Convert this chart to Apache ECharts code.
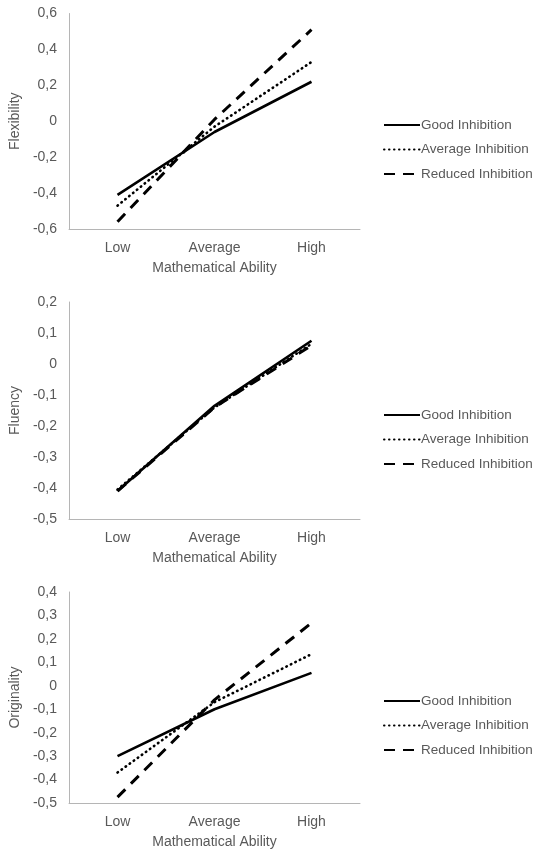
<!DOCTYPE html>
<html>
<head>
<meta charset="utf-8">
<script src="https://cdn.jsdelivr.net/npm/echarts@6/dist/echarts.min.js"></script>
<style>html,body{margin:0;padding:0;background:#fff}#c{width:537px;height:851px}</style>
</head>
<body>
<div id="c"></div>
<script>
const categories = ['Low', 'Average', 'High'];
const seriesNames = ['Good Inhibition', 'Average Inhibition', 'Reduced Inhibition'];
const yTitles = ['Flexibility', 'Fluency', 'Originality'];
const xTitle = 'Mathematical Ability';

const flexGood = [-0.41, -0.06, 0.22];
const flexAvg = [-0.47, -0.03, 0.33];
const flexRed = [-0.56, 0.01, 0.51];

const fluGood = [-0.41, -0.135, 0.075];
const fluAvg = [-0.405, -0.14, 0.065];
const fluRed = [-0.41, -0.14, 0.06];

const origGood = [-0.30, -0.10, 0.055];
const origAvg = [-0.37, -0.07, 0.135];
const origRed = [-0.475, -0.06, 0.268];

const yMin = [-0.6, -0.5, -0.5];
const yMax = [0.6, 0.2, 0.4];
const yStep = [0.2, 0.1, 0.1];

const panels = [
  [flexGood, flexAvg, flexRed],
  [fluGood, fluAvg, fluRed],
  [origGood, origAvg, origRed]
];

const FONT = 'Liberation Sans, Arial, sans-serif';
const TXT = '#595959';
const AXC = '#b5b5b5';
const FS = 14;
const grids = [
  {left: 67, top: 13.5, width: 293, height: 215.5},
  {left: 67, top: 302, width: 293, height: 217},
  {left: 67, top: 592, width: 293, height: 211}
];
const legendTops = [113, 403, 689];
const styles = [
  {type: 'solid', width: 2.6, cap: 'butt'},
  {type: [0.5, 4.5], width: 2.6, cap: 'round'},
  {type: [11, 8], width: 3, cap: 'butt'}
];
const fmt = v => Math.abs(v) < 1e-9 ? '0' : v.toFixed(1).replace('.', ',');

const option = {
  animation: false,
  backgroundColor: '#fff',
  textStyle: {fontFamily: FONT},
  grid: grids.map(g => Object.assign({containLabel: false}, g)),
  xAxis: grids.map((g, i) => ({
    type: 'category', gridIndex: i, data: categories, boundaryGap: true,
    axisLine: {show: true, onZero: false, lineStyle: {color: AXC, width: 1}},
    axisTick: {show: false},
    axisLabel: {color: TXT, fontSize: FS, fontFamily: FONT, margin: 12},
    name: xTitle, nameLocation: 'middle', nameGap: 32,
    nameTextStyle: {color: TXT, fontSize: FS, fontFamily: FONT},
    splitLine: {show: false}
  })),
  yAxis: grids.map((g, i) => ({
    type: 'value', gridIndex: i, min: yMin[i], max: yMax[i], interval: yStep[i],
    axisLine: {show: true, lineStyle: {color: AXC, width: 1}},
    axisTick: {show: false},
    splitLine: {show: false},
    axisLabel: {color: TXT, fontSize: FS, fontFamily: FONT, margin: 12, formatter: fmt},
    name: yTitles[i], nameLocation: 'middle', nameGap: 41,
    nameTextStyle: {color: TXT, fontSize: FS, fontFamily: FONT}
  })),
  legend: legendTops.map(t => ({
    orient: 'vertical', left: 378, top: t, itemWidth: 36, itemHeight: 14, itemGap: 10.5,
    data: seriesNames,
    itemStyle: {opacity: 0, borderWidth: 0},
    textStyle: {color: TXT, fontSize: 13.5, fontFamily: FONT, padding: [0, 0, 0, -4]},
    selectedMode: false
  })),
  series: []
};

panels.forEach((vals, i) => {
  vals.forEach((d, j) => {
    option.series.push({
      type: 'line', name: seriesNames[j], xAxisIndex: i, yAxisIndex: i,
      data: d, symbol: 'none', smooth: false,
      lineStyle: Object.assign({color: '#000'}, styles[j]),
      itemStyle: {color: '#000'},
      z: 2 + j
    });
  });
});

const chart = echarts.init(document.getElementById('c'), null, {renderer: 'canvas'});
chart.setOption(option);
</script>
</body>
</html>
